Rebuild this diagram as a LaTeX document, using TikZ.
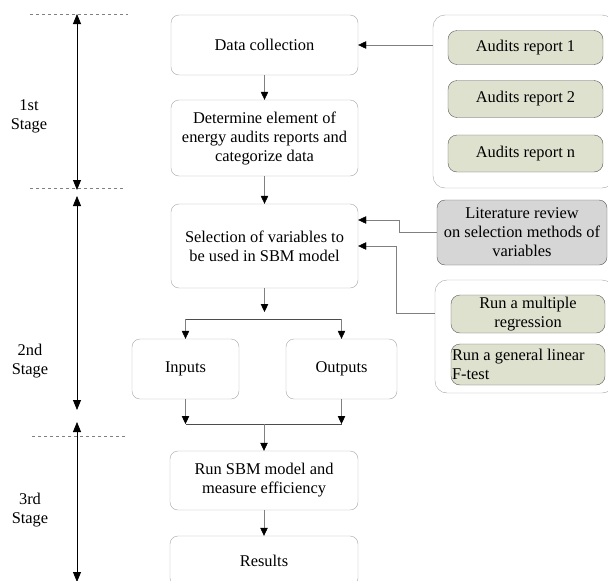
\documentclass[tikz,border=0pt]{standalone}
\usepackage{fontspec}
\setmainfont{Liberation Serif}
\usetikzlibrary{arrows.meta}
\definecolor{reportgreen}{HTML}{DFE1CF}
\definecolor{reviewgray}{HTML}{D6D6D6}

\begin{document}
\begin{tikzpicture}[x=1pt,y=-1pt,
    font=\fontsize{16.4}{19}\selectfont,
    box/.style={draw=gray!70,rounded corners=8pt,align=center,inner sep=0pt},
    report/.style={box,draw=gray!70!black,fill=reportgreen,rounded corners=9pt},
    link/.style={draw=gray,-{Triangle[black,length=8pt,width=7.5pt]}},
    fork/.style={draw=gray!60!black,thick},
    stage/.style={thick,{Triangle[length=10pt,width=8pt]}-{Triangle[length=10pt,width=8pt]}}]
  \useasboundingbox (0,0) rectangle (608,581);

  \draw[dashed,gray] (30,14) -- (128,14);
  \draw[dashed,gray] (30,188) -- (125,188);
  \draw[dashed,gray] (32,436) -- (125,436);
  \coordinate (s1top) at (77,14);
  \coordinate (s1bot) at (77,190);
  \coordinate (s2top) at (77,196);
  \coordinate (s2bot) at (77,410);
  \coordinate (s3top) at (77,422);
  \coordinate (s3bot) at (77,582);
  \draw[stage] (s1top) -- (s1bot);
  \draw[stage] (s2top) -- (s2bot);
  \draw[stage] (s3top) -- (s3bot);
  \node[align=center] (first) at (29,116) {1st\\Stage};
  \node[align=center] (second) at (30,361) {2nd\\Stage};
  \node[align=center] (third) at (30,510) {3rd\\Stage};

  \node[box,minimum width=187pt,minimum height=60pt] (data) at (264.5,45) {Data collection};
  \node[box,minimum width=187pt,minimum height=76pt] (determine) at (264.5,138) {Determine element of\\energy audits reports and\\categorize data};
  \node[box,minimum width=187pt,minimum height=84pt] (select) at (264.5,246) {Selection of variables to\\be used in SBM model};
  \node[box,minimum width=107pt,minimum height=60pt] (inputs) at (185.5,369) {Inputs};
  \node[box,minimum width=111pt,minimum height=60pt] (outputs) at (341.5,369) {Outputs};
  \node[box,minimum width=188pt,minimum height=59pt] (sbm) at (264,480.5) {Run SBM model and\\measure efficiency};
  \node[box,minimum width=188pt,minimum height=50pt] (results) at (264,561) {Results};

  \node[box,minimum width=181pt,minimum height=173pt,rounded corners=12pt] (audits) at (523.5,101.5) {};
  \node[report,minimum width=155pt,minimum height=34pt] (report1) at (525.5,47.5) {Audits report 1};
  \node[report,minimum width=155pt,minimum height=37pt] (report2) at (525.5,99) {Audits report 2};
  \node[report,minimum width=155pt,minimum height=37pt] (reportn) at (525.5,153.5) {Audits report n};
  \node[box,draw=gray!70!black,fill=reviewgray,minimum width=170pt,minimum height=65pt] (review) at (522,232.5) {Literature review\\on selection methods of\\variables};
  \node[box,minimum width=179pt,minimum height=113pt,rounded corners=12pt] (tests) at (524.5,336.5) {};
  \node[report,minimum width=154pt,minimum height=38pt] (regression) at (528,314) {Run a multiple\\regression};
  \node[report,align=flush left,text width=152pt,inner xsep=1pt,minimum height=41pt] (ftest) at (528,364.5) {Run a general linear\\F-test};

  \coordinate (split) at (264.5,312);
  \coordinate (forkL) at (185.5,319);
  \coordinate (forkR) at (341.5,319);
  \coordinate (joinL) at (185.5,424);
  \coordinate (joinR) at (341.5,424);
  \coordinate (join) at (264,424);
  \coordinate (bendA) at (399,220);
  \coordinate (bendB) at (396,246);

  \draw[link] (data) -- (determine);
  \draw[link] (determine) -- (select);
  \draw[link] (select) -- (split);
  \draw[fork] (forkL) -- (forkR);
  \draw[link] (forkL) -- (inputs);
  \draw[link] (forkR) -- (outputs);
  \draw[link] (inputs) -- (joinL);
  \draw[link] (outputs) -- (joinR);
  \draw[fork] (joinL) -- (joinR);
  \draw[link] (join) -- (sbm);
  \draw[link] (sbm) -- (results);
  \draw[link] (audits.west |- data.east) -- (data.east);
  \draw[link] (review.west) -| (bendA) -- (select.east |- bendA);
  \draw[link] (tests.west |- 0,313) -| (bendB) -- (select.east);
\end{tikzpicture}
\end{document}
